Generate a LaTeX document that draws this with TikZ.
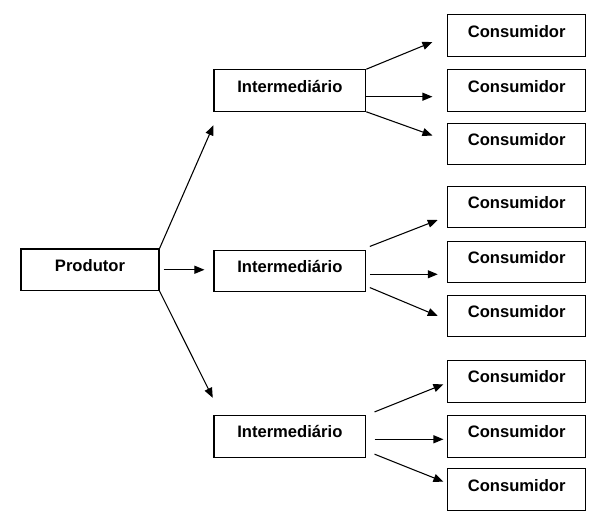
\documentclass[tikz,border=0pt]{standalone}
\usepackage{fontspec}
\setmainfont{Liberation Sans}
\usetikzlibrary{arrows.meta,calc}
\begin{document}
\begin{tikzpicture}[x=0.75pt,y=-0.75pt,
  box/.style={draw,line width=0.8pt,inner sep=0pt,minimum height=31.1pt,
    text height=16.7pt,text depth=14.4pt,font=\fontsize{12.45pt}{15pt}\selectfont\bfseries},
  pbox/.style={box,minimum width=103.5pt},
  ibox/.style={box,minimum width=113.8pt},
  cbox/.style={box,minimum width=103.5pt},
  arr/.style={line width=0.8pt,-{Triangle[length=7.5pt,width=6pt]}}]
\useasboundingbox (0,0) rectangle (594,517);
\node[pbox] (P) at (90,269.75) {Produtor};
\node[ibox] (I1) at (289.85,90.5) {Intermediário};
\node[ibox] (I2) at (289.85,271) {Intermediário};
\node[ibox] (I3) at (289.85,436.4) {Intermediário};
\node[cbox] (C1) at (516.7,35.5) {Consumidor};
\node[cbox] (C2) at (516.7,90.5) {Consumidor};
\node[cbox] (C3) at (516.7,144) {Consumidor};
\node[cbox] (C4) at (516.7,207.2) {Consumidor};
\node[cbox] (C5) at (516.7,262.2) {Consumidor};
\node[cbox] (C6) at (516.7,315.9) {Consumidor};
\node[cbox] (C7) at (516.7,381.4) {Consumidor};
\node[cbox] (C8) at (516.7,436.4) {Consumidor};
\node[cbox] (C9) at (516.7,489.5) {Consumidor};
% Produtor -> Intermediarios
\draw[arr] (P.north east) -- ($(I1.south west)+(0,13.5)$);
\draw[arr] ($(P.east)+(4,0)$) -- ($(P.east -| I2.west)+(-9,0)$);
\draw[arr] (P.south east) -- ($(I3.north west)+(-0.7,-17.3)$);
% I1 -> C1..C3
\draw[arr] (I1.north east) -- ($(C1.west)+(-14.7,6.5)$);
\draw[arr] ($(I1.east)+(0,6.2)$) -- ($(C2.west)+(-14.7,6.2)$);
\draw[arr] (I1.south east) -- ($(C3.west)+(-14.7,-8.5)$);
% I2 -> C4..C6
\draw[arr] ($(I2.north east)+(3.6,-3.3)$) -- ($(C4.west)+(-9.4,12.8)$);
\draw[arr] ($(I2.east)+(3.6,3.3)$) -- ($(C5.west)+(-9.4,12.1)$);
\draw[arr] ($(I2.south east)+(3.6,-4.7)$) -- ($(C6.west)+(-9.4,0.1)$);
% I3 -> C7..C9
\draw[arr] ($(I3.north east)+(8.3,-3.2)$) -- ($(C7.west)+(-3.7,2.9)$);
\draw[arr] ($(I3.east)+(8.3,2.9)$) -- ($(C8.west)+(-3.7,2.9)$);
\draw[arr] ($(I3.south east)+(8.3,-3.5)$) -- ($(C9.west)+(-3.7,-7.8)$);
\end{tikzpicture}
\end{document}
